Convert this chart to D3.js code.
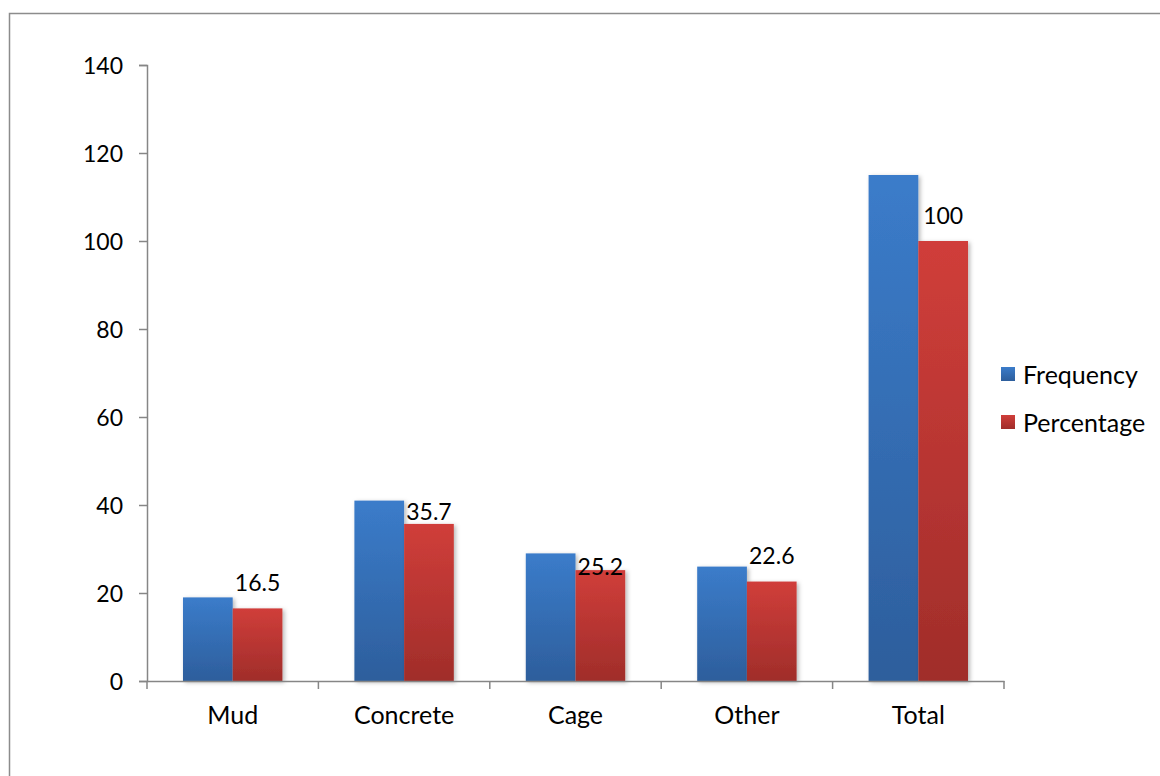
<!DOCTYPE html>
<html>
<head>
<meta charset="utf-8">
<script src="https://cdn.jsdelivr.net/npm/d3@7"></script>
<style>
  html, body { margin: 0; padding: 0; background: #fff; }
  svg { display: block; font-family: Lato, "Open Sans", sans-serif; }
</style>
</head>
<body>
<svg id="chart" width="1160" height="776"></svg>
<script>
// Housing type survey: counts and shares
const categories = ["Mud", "Concrete", "Cage", "Other", "Total"];
const frequency = [19, 41, 29, 26, 115];
const percentage = [16.5, 35.7, 25.2, 22.6, 100];
const seriesNames = ["Frequency", "Percentage"];
const yTicks = [0, 20, 40, 60, 80, 100, 120, 140];

// label offsets above the percentage bars (px), a few sit lower
const labelLift = { Mud: 26, Concrete: 13, Cage: 4, Other: 27, Total: 26 };

const svg = d3.select("#chart");
const W = 1160, H = 776;
const plot = { left: 147, right: 1004, top: 65, bottom: 681 };
const numSize = "23px", wordSize = "25px";

// outer frame
svg.append("rect")
  .attr("x", 9.5).attr("y", 13.5)
  .attr("width", W + 10).attr("height", H + 10)
  .attr("fill", "#fff").attr("stroke", "#8c8c8c").attr("stroke-width", 1.5);

const defs = svg.append("defs");
function grad(id, top, bottom) {
  const g = defs.append("linearGradient").attr("id", id)
    .attr("x1", 0).attr("y1", 0).attr("x2", 0).attr("y2", 1);
  g.append("stop").attr("offset", "0%").attr("stop-color", top);
  g.append("stop").attr("offset", "100%").attr("stop-color", bottom);
}
grad("gBlue", "#3b7cca", "#2d5e9c");
grad("gRed", "#d03e3a", "#a02d2a");
const shadow = defs.append("filter").attr("id", "shadow")
  .attr("x", "-20%").attr("y", "-5%").attr("width", "150%").attr("height", "115%");
shadow.append("feDropShadow").attr("dx", 2).attr("dy", 1.5)
  .attr("stdDeviation", 2.2).attr("flood-color", "#000").attr("flood-opacity", 0.28);

const x0 = d3.scaleBand().domain(categories)
  .range([plot.left, plot.right]).paddingInner(0.42).paddingOuter(0.21);
const x1 = d3.scaleBand().domain(seriesNames).range([0, x0.bandwidth()]);
const y = d3.scaleLinear().domain([0, 140]).range([plot.bottom, plot.top]);

const fills = { Frequency: "url(#gBlue)", Percentage: "url(#gRed)" };
const rows = categories.map((c, i) => ({
  cat: c,
  vals: [
    { s: "Frequency", v: frequency[i] },
    { s: "Percentage", v: percentage[i] }
  ]
}));

const groups = svg.append("g").selectAll("g").data(rows).join("g")
  .attr("transform", d => `translate(${x0(d.cat)},0)`);

groups.selectAll("rect").data(d => d.vals).join("rect")
  .attr("x", d => x1(d.s))
  .attr("y", d => y(d.v))
  .attr("width", x1.bandwidth())
  .attr("height", d => y(0) - y(d.v))
  .attr("fill", d => fills[d.s])
  .attr("filter", "url(#shadow)");

// axes
const axisColor = "#868686";
const yAxis = svg.append("g").attr("transform", `translate(${plot.left},0)`)
  .call(d3.axisLeft(y).tickValues(yTicks).tickSize(8).tickPadding(16).tickFormat(d3.format("d")));
const xAxis = svg.append("g").attr("transform", `translate(0,${plot.bottom})`)
  .call(d3.axisBottom(x0).tickSize(0).tickPadding(25));
// category boundary ticks
const bounds = d3.range(categories.length + 1)
  .map(i => plot.left + i * x0.step());
xAxis.selectAll("line.bound").data(bounds).join("line")
  .attr("class", "bound")
  .attr("x1", d => d).attr("x2", d => d).attr("y1", 0).attr("y2", 8)
  .attr("stroke", axisColor).attr("stroke-width", 1.5);

[yAxis, xAxis].forEach(a => {
  a.selectAll(".domain").attr("stroke", axisColor).attr("stroke-width", 1.5);
  a.selectAll(".tick line").attr("stroke", axisColor).attr("stroke-width", 1.5);
  a.selectAll("text").attr("fill", "#000")
    .style("font-family", "Lato, 'Open Sans', sans-serif");
});
yAxis.selectAll("text").attr("dy", "0.35em").style("font-size", numSize);
xAxis.selectAll("text").style("font-size", wordSize);

// value labels on the percentage bars
groups.append("text")
  .attr("x", x1("Percentage") + x1.bandwidth() / 2)
  .attr("y", (d, i) => y(percentage[i]) - labelLift[d.cat])
  .attr("text-anchor", "middle")
  .attr("dominant-baseline", "central")
  .style("font-size", numSize)
  .attr("fill", "#000")
  .text((d, i) => percentage[i]);

// legend
const legend = svg.append("g").selectAll("g").data(seriesNames).join("g")
  .attr("transform", (d, i) => `translate(1001,${367 + i * 48})`);
legend.append("rect").attr("width", 14).attr("height", 14)
  .attr("fill", d => fills[d]);
legend.append("text").attr("x", 22).attr("y", 7)
  .attr("dominant-baseline", "central")
  .style("font-size", wordSize).attr("fill", "#000")
  .text(d => d);
</script>
</body>
</html>
